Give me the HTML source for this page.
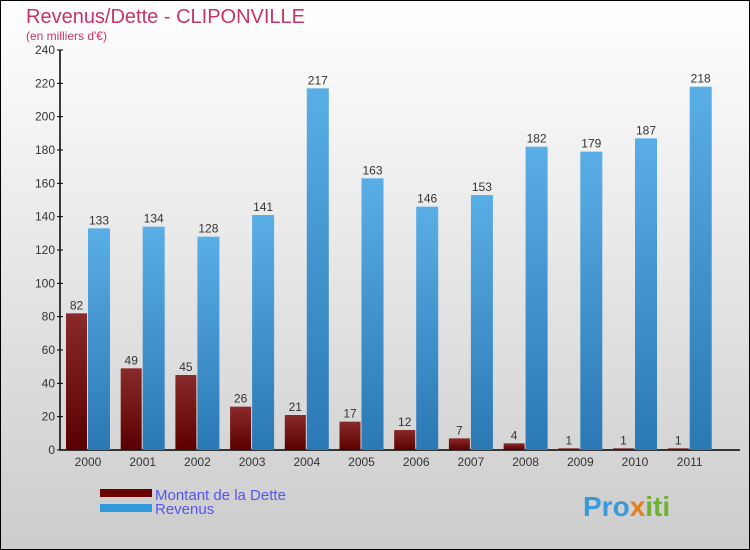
<!DOCTYPE html>
<html><head><meta charset="utf-8"><style>
body{margin:0;}
#c{width:748px;height:548px;border:1px solid #000;background:linear-gradient(#fff,#ccc);position:relative;overflow:hidden;font-family:"Liberation Sans",sans-serif;}
svg{position:absolute;left:-1px;top:-1px;}
</style></head><body>
<div id="c">
<svg id="s" width="750" height="550">
<defs>
<linearGradient id="gd" x1="0" y1="0" x2="0" y2="1"><stop offset="0" stop-color="#8a2a2a"/><stop offset="1" stop-color="#5a0000"/></linearGradient>
<linearGradient id="gr" x1="0" y1="0" x2="0" y2="1"><stop offset="0" stop-color="#5aaee6"/><stop offset="1" stop-color="#2a78b4"/></linearGradient>
</defs>
<text x="26" y="23" font-size="20" fill="#c8336a">Revenus/Dette - CLIPONVILLE</text>
<text x="26" y="40" font-size="12" fill="#c8336a">(en milliers d'€)</text>
<g id="axes"></g>
<g id="bars"></g>
<rect x="100" y="489" width="52" height="8" fill="#6a0000"/>
<rect x="100" y="504" width="52" height="8" fill="#3399dd"/>
<text x="155" y="500" font-size="15" fill="#5555ee">Montant de la Dette</text>
<text x="155" y="514" font-size="15" fill="#5555ee">Revenus</text>
<text x="583" y="516" font-size="28" font-weight="bold" fill="#3a9ad9">Pro<tspan fill="#e08020">x</tspan><tspan fill="#70b030">iti</tspan></text>
</svg></div>
<script>
const years=["2000","2001","2002","2003","2004","2005","2006","2007","2008","2009","2010","2011"];
const dette=[82,49,45,26,21,17,12,7,4,1,1,1];
const revenus=[133,134,128,141,217,163,146,153,182,179,187,218];
const yTicks=[0,20,40,60,80,100,120,140,160,180,200,220,240];
const NS="http://www.w3.org/2000/svg";
const y0=450,yTop=50,yMax=240,x0=60,step=54.7;
function y(v){return y0-(v/yMax)*(y0-yTop);}
function gx(i){return 66+i*step;}
function mk(t,a,p){const e=document.createElementNS(NS,t);for(const k in a)e.setAttribute(k,a[k]);p.appendChild(e);return e;}
const ax=document.getElementById('axes'),bs=document.getElementById('bars');
const yl=mk('line',{x1:x0,y1:y0,x2:x0,y2:yTop,stroke:'#000','stroke-width':1.5},ax);


const xl=mk('line',{x1:x0,y1:y0,x2:740,y2:y0,stroke:'#000','stroke-width':1.5},ax);


yTicks.forEach(v=>{
 mk('line',{x1:x0-3,y1:y(v),x2:x0+3,y2:y(v),stroke:'#000'},ax);
 const t=mk('text',{x:x0-5,y:y(v)+4,'font-size':12,fill:'#333','text-anchor':'end'},ax);
 t.textContent=v;
 
 
});
years.forEach((yr,i)=>{
 const xd=gx(i),xr=xd+22;
 const b1=mk('rect',{x:xd,y:y(dette[i]),width:21,height:y0-y(dette[i]),fill:'url(#gd)'},bs);
 
 
 const b2=mk('rect',{x:xr,y:y(revenus[i]),width:22,height:y0-y(revenus[i]),fill:'url(#gr)'},bs);
 
 
 const l1=mk('text',{x:xd+10.5,y:y(dette[i])-4,'font-size':12,fill:'#333','text-anchor':'middle'},bs);
 l1.textContent=dette[i];
 
 
 const l2=mk('text',{x:xr+11,y:y(revenus[i])-4,'font-size':12,fill:'#333','text-anchor':'middle'},bs);
 l2.textContent=revenus[i];
 
 
 const xt=mk('text',{x:xd+22,y:466,'font-size':12,fill:'#333','text-anchor':'middle'},ax);
 xt.textContent=yr;
 
 
});
</script>
</body></html>
